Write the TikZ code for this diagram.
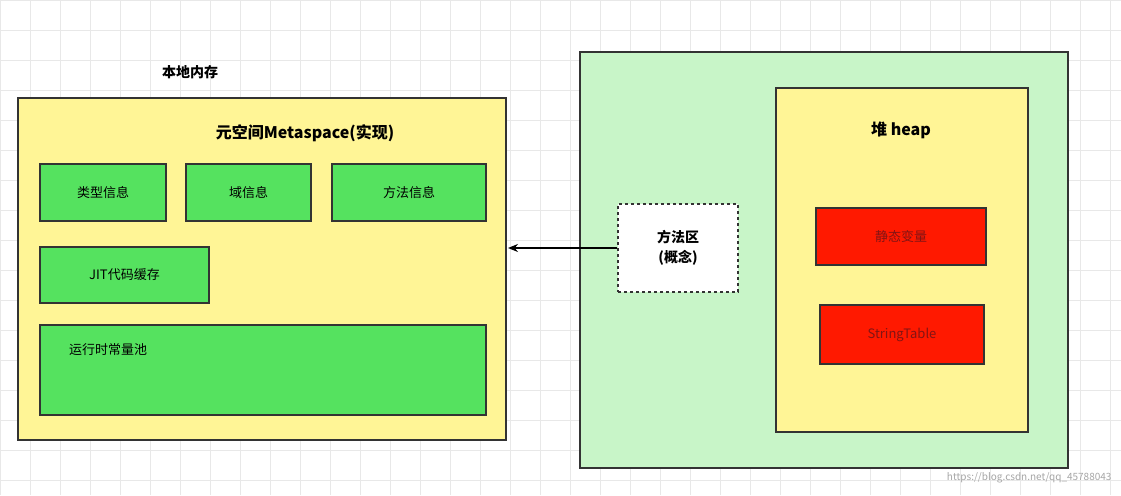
\documentclass[tikz,border=0pt]{standalone}
\usepackage{fontspec}
\setmainfont{Noto Sans CJK SC}
\usetikzlibrary{arrows.meta}
\definecolor{yel}{RGB}{255,245,150}
\definecolor{grn}{RGB}{85,226,95}
\definecolor{lgrn}{RGB}{200,245,200}
\definecolor{rd}{RGB}{255,25,0}
\definecolor{drd}{RGB}{130,20,20}
\definecolor{gridc}{RGB}{232,232,232}
\begin{document}
\begin{tikzpicture}[x=1pt,y=-1pt,
  box/.style={draw=black!80,line width=1.2pt},
  gbox/.style={box,fill=grn,font=\fontsize{13}{15}\selectfont},
  rbox/.style={box,fill=rd,text=drd,font=\fontsize{13}{15}\selectfont},
  ttl/.style={font=\bfseries\fontsize{16}{18}\selectfont}]
\useasboundingbox (0,0) rectangle (1121,495);
\fill[white] (0,0) rectangle (1121,495);
\foreach \x in {0,30,...,1120} \draw[gridc] (\x,0) -- (\x,495);
\foreach \y in {0,30,...,495} \draw[gridc] (0,\y) -- (1121,\y);

\node[ttl,font=\bfseries\fontsize{14}{16}\selectfont] (local) at (190,72) {本地内存};
\draw[box,fill=yel] (18,98) rectangle (506,440);
\coordinate (leftE) at (508,248);
\node[ttl] (meta) at (305,133) {元空间Metaspace(实现)};
\node[gbox,minimum width=126pt,minimum height=57pt] (t1) at (103,192.5) {类型信息};
\node[gbox,minimum width=125pt,minimum height=57pt] (t2) at (248.5,192.5) {域信息};
\node[gbox,minimum width=154pt,minimum height=57pt] (t3) at (409,192.5) {方法信息};
\node[gbox,minimum width=169pt,minimum height=56pt] (jit) at (124.5,275) {JIT代码缓存};
\draw[box,fill=grn] (40,325) rectangle (486,415);
\node[font=\fontsize{13}{15}\selectfont] (pool) at (108,350) {运行时常量池};

\draw[box,fill=lgrn] (580,52) rectangle (1068,468);
\draw[box,fill=yel] (776,88) rectangle (1028,432);
\node[ttl] (heap) at (901,130) {堆 heap};
\node[rbox,minimum width=170pt,minimum height=57pt] (s1) at (901,236.5) {静态变量};
\node[rbox,minimum width=164pt,minimum height=59pt] (s2) at (902,334.5) {StringTable};

\node[draw=black!80,line width=1.2pt,dashed,fill=white,minimum width=120pt,minimum height=88pt,align=center,
  font=\bfseries\fontsize{14}{20}\selectfont] (ma) at (678,248) {方法区\\(概念)};
\draw[line width=1.2pt,-{Stealth[length=10pt,width=8pt]}] (ma) -- (leftE);

\node[anchor=east,text=black!35,font=\fontsize{10}{12}\selectfont] (wm) at (1115,478) {https://blog.csdn.net/qq\_45788043};
\end{tikzpicture}
\end{document}
